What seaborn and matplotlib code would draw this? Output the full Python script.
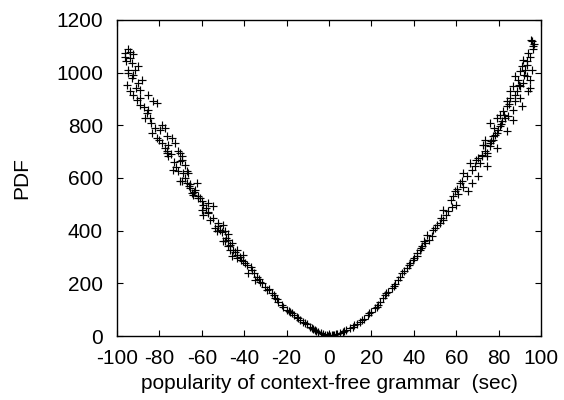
import matplotlib
matplotlib.use("Agg")
import matplotlib.pyplot as plt
import seaborn as sns
import pandas as pd

# ---- data ----
left_x = [-94.7, -96.2, -92.3, -93.9, -95.8, -93.1, -90.0, -91.5, -94.7, -92.3, -88.4, -90.0, -95.4, -93.9,
          -92.3, -89.2, -85.2, -82.9, -81.3, -90.7, -89.2, -85.2, -86.8, -84.4, -78.9, -79.7, -77.4, -83.6,
          -81.3, -76.6, -74.2, -78.9, -75.8, -72.6, -76.6, -75.8, -71.1, -69.5, -70.3, -67.9, -73.4, -71.1,
          -68.7, -66.4, -70.3, -67.1, -62.4, -65.6, -63.2, -64.8, -61.6, -60.0, -59.3, -54.6,
          -76.6, -70.3, -69.5, -67.1, -69.5, -65.6, -64.0, -60.8, -56.9, -60.0, -59.3, -56.9, -56.1, -52.2,
          -49.8, -53.8, -51.4, -49.1, -47.5, -49.8, -45.9, -47.5, -45.1, -43.5, -45.9,
          -53.0, -47.5, -49.1, -46.7, -43.5, -40.4, -43.5, -40.4, -38.8, -36.5, -38.1, -34.1, -34.9, -31.7,
          -30.2, -29.4, -27.0, -25.5, -23.9, -22.3, -20.0, -17.6, -15.2, -13.7, -11.3, -9.0, -6.6, -5.0,
          -41.5, -37.0, -33.0, -32.5, -28.5, -26.0, -24.5, -21.5, -19.0, -18.5, -16.5, -14.5, -12.5, -10.5,
          -8.0, -7.5, -6.0, -4.0, -3.0, -2.0, -1.0, -0.5, -35.5, -39.5, -42.0, -44.5, -46.5, -48.5, -50.5,
          -52.5, -54.5, -57.0, -58.0, -62.0, -63.5, -66.0, -68.0, -72.0, -73.0, -74.5, -77.5, -80.0, -82.0,
          -84.0, -86.0, -87.5, -89.0, -91.0, -93.0, -95.0, -96.0, -94.0]
left_y = [1090, 1075, 1072, 1056, 1043, 1037, 1024, 1011, 999, 992, 973, 961, 954, 929,
          916, 935, 916, 891, 885, 897, 878, 859, 828, 828, 802, 783, 790, 771,
          752, 758, 752, 733, 726, 733, 701, 682, 701, 682, 663, 650, 631, 625,
          619, 619, 587, 581, 581, 562, 555, 543, 524, 511, 498, 492,
          695, 695, 669, 625, 590, 578, 536, 524, 505, 479, 460, 466, 441, 428,
          422, 409, 403, 397, 365, 359, 352, 340, 327, 308, 302,
          397, 388, 359, 327, 327, 308, 295, 283, 270, 251, 238, 225, 213, 200,
          187, 175, 162, 143, 130, 118, 99, 86, 73, 61, 48, 35, 23, 16,
          290, 262, 218, 206, 180, 155, 140, 112, 96, 92, 80, 68, 55, 45,
          30, 28, 20, 12, 8, 5, 3, 1, 240, 276, 300, 318, 345, 372, 395,
          418, 447, 470, 487, 530, 548, 570, 600, 640, 660, 690, 715, 745, 790,
          810, 845, 870, 905, 940, 980, 1010, 1060, 1080]

right_x = [0.5, 1.5, 2.5, 3.5, 5.2, 6.5, 8.0, 9.9, 11.5, 13.0, 14.6, 16.5, 18.5, 20.0, 21.7, 23.0, 24.1,
           25.3, 26.4, 28.0, 29.6, 31.0, 32.7, 34.3, 35.5, 36.6, 38.2, 39.5, 41.4, 41.4, 42.9, 44.0, 45.3,
           46.1, 48.4, 49.2, 47.0, 51.0, 52.5, 54.0, 56.3, 54.0, 60.1, 58.0, 57.5, 59.4, 58.5, 61.8, 60.5,
           64.9, 63.4, 65.7, 67.3, 68.9, 66.5, 71.2, 74.4, 70.4, 72.0, 74.4, 73.6, 75.9, 77.5, 79.1,
           95.6, 96.4, 94.0, 91.6, 93.2, 90.9, 92.5, 95.6, 90.1, 87.7, 93.2, 94.8, 89.3, 91.6, 90.1, 94.8,
           86.9, 85.4, 94.0, 87.7, 85.4, 90.1, 83.8, 87.7, 90.9, 83.8, 82.2, 86.9, 80.7, 84.6, 83.0, 79.1,
           81.5, 86.9, 75.9, 80.7, 83.8, 79.9, 78.3, 73.6, 77.5, 72.8, 75.9, 79.1, 73.6, 72.0, 74.4,
           96.6, 95.2,
           62.5, 63.0, 61.0, 55.0, 53.0, 50.0, 45.0, 43.5, 40.0, 37.5, 33.5, 30.5, 27.0, 22.5, 19.0, 15.5,
           12.0, 7.0, 4.0, 2.0, 67.5, 69.5, 70.5, 76.5, 78.0, 81.0, 82.5, 85.0, 88.5, 89.5, 92.0, 93.5,
           95.0, 96.0]
right_y = [0, 2, 4, 7, 10, 16, 22, 29, 36, 45, 54, 66, 80, 92, 105, 118, 130,
           143, 156, 168, 181, 197, 213, 238, 246, 257, 276, 290, 302, 314, 327, 340, 352,
           384, 378, 403, 365, 420, 430, 441, 473, 479, 498, 490, 515, 549, 530, 581, 560,
           606, 619, 549, 581, 644, 657, 657, 644, 606, 688, 695, 726, 733, 758, 771,
           1119, 1100, 1075, 1049, 1043, 1024, 1011, 1011, 1005, 986, 986, 973, 973, 961, 948, 942,
           948, 929, 929, 916, 904, 904, 891, 891, 872, 872, 853, 859, 840, 834, 828, 828,
           815, 821, 809, 796, 777, 783, 764, 745, 745, 726, 720, 714, 701, 682, 682,
           1110, 1125,
           590, 565, 540, 460, 450, 410, 360, 335, 295, 268, 225, 190, 162, 112, 86, 60,
           40, 18, 8, 3, 630, 668, 675, 740, 790, 805, 840, 880, 930, 955, 990, 1030,
           1060, 1090]

x_ticks = [-100, -80, -60, -40, -20, 0, 20, 40, 60, 80, 100]
y_ticks = [0, 200, 400, 600, 800, 1000, 1200]
x_label = "popularity of context-free grammar  (sec)"
y_label = "PDF"

df = pd.DataFrame({"x": left_x + right_x, "y": left_y + right_y})

sns.set_theme(style="ticks")
plt.rcParams["font.family"] = ["Liberation Sans", "DejaVu Sans"]

fig = plt.figure(figsize=(5.64, 4.00), dpi=100)
ax = fig.add_axes([117 / 564, 1 - 336 / 400, (541 - 117) / 564, (336 - 20) / 400])

sns.scatterplot(data=df, x="x", y="y", marker="+", color="black", s=32,
                linewidth=0.85, ax=ax, legend=False)

ax.set_xlim(-100, 100)
ax.set_ylim(0, 1200)
ax.set_xticks(x_ticks)
ax.set_yticks(y_ticks)
ax.set_xticklabels([str(t) for t in x_ticks])
ax.set_yticklabels([str(t) for t in y_ticks])
ax.tick_params(direction="in", length=4, width=0.8, top=True, right=True,
               labelsize=15, colors="black", pad=10)
ax.tick_params(axis="x", pad=9)
for sp in ax.spines.values():
    sp.set_visible(True)
    sp.set_linewidth(1.0)
    sp.set_color("black")
ax.set_xlabel(x_label, fontsize=15, labelpad=5, color="black")
ax.set_ylabel(y_label, fontsize=15, labelpad=18, color="black")

fig.savefig("out.png", dpi=100)
